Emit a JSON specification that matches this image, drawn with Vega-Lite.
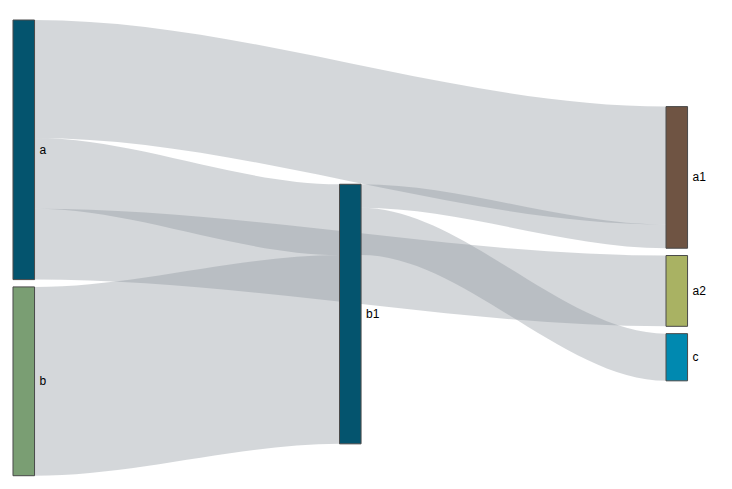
{
  "$schema": "https://vega.github.io/schema/vega-lite/v6.json",
  "width": 732,
  "height": 489,
  "autosize": "none",
  "padding": 0,
  "config": {"view": {"stroke": null}},
  "datasets": {
    "links": [
      {"link": "a-a1", "x": 0, "y0": 0, "y1": 5},
      {"link": "a-a1", "x": 0.066, "y0": 0, "y1": 5},
      {"link": "a-a1", "x": 2, "y0": 3.67, "y1": 8.67},
      {"link": "a-a1", "x": 2.066, "y0": 3.67, "y1": 8.67},
      {"link": "a-b1", "x": 0, "y0": 5, "y1": 8},
      {"link": "a-b1", "x": 0.066, "y0": 5, "y1": 8},
      {"link": "a-b1", "x": 1, "y0": 6.96, "y1": 9.96},
      {"link": "a-b1", "x": 1.066, "y0": 6.96, "y1": 9.96},
      {"link": "a-a2", "x": 0, "y0": 8, "y1": 11},
      {"link": "a-a2", "x": 0.066, "y0": 8, "y1": 11},
      {"link": "a-a2", "x": 2, "y0": 9.98, "y1": 12.98},
      {"link": "a-a2", "x": 2.066, "y0": 9.98, "y1": 12.98},
      {"link": "b-b1", "x": 0, "y0": 11.31, "y1": 19.31},
      {"link": "b-b1", "x": 0.066, "y0": 11.31, "y1": 19.31},
      {"link": "b-b1", "x": 1, "y0": 9.96, "y1": 17.96},
      {"link": "b-b1", "x": 1.066, "y0": 9.96, "y1": 17.96},
      {"link": "b1-a1", "x": 1, "y0": 6.96, "y1": 7.96},
      {"link": "b1-a1", "x": 1.066, "y0": 6.96, "y1": 7.96},
      {"link": "b1-a1", "x": 2, "y0": 8.67, "y1": 9.67},
      {"link": "b1-a1", "x": 2.066, "y0": 8.67, "y1": 9.67},
      {"link": "b1-c", "x": 1, "y0": 7.96, "y1": 9.96},
      {"link": "b1-c", "x": 1.066, "y0": 7.96, "y1": 9.96},
      {"link": "b1-c", "x": 2, "y0": 13.29, "y1": 15.29},
      {"link": "b1-c", "x": 2.066, "y0": 13.29, "y1": 15.29}
    ],
    "nodes": [
      {"name": "a", "x0": 0, "x1": 0.066, "y0": 0, "y1": 11},
      {"name": "b", "x0": 0, "x1": 0.066, "y0": 11.31, "y1": 19.31},
      {"name": "b1", "x0": 1, "x1": 1.066, "y0": 6.96, "y1": 17.96},
      {"name": "a1", "x0": 2, "x1": 2.066, "y0": 3.67, "y1": 9.67},
      {"name": "a2", "x0": 2, "x1": 2.066, "y0": 9.98, "y1": 12.98},
      {"name": "c", "x0": 2, "x1": 2.066, "y0": 13.29, "y1": 15.29}
    ]
  },
  "layer": [
    {
      "data": {"name": "links"},
      "mark": {"type": "area", "interpolate": "monotone", "color": "#8e969e", "opacity": 0.38},
      "encoding": {
        "x": {"field": "x", "type": "quantitative", "scale": {"domain": [-0.0398, 2.2021], "nice": false, "zero": false}, "axis": null},
        "y": {"field": "y0", "type": "quantitative", "scale": {"domain": [-0.8475, 19.873], "nice": false, "zero": false, "reverse": true}, "axis": null},
        "y2": {"field": "y1"},
        "detail": {"field": "link", "type": "nominal"}
      }
    },
    {
      "data": {"name": "nodes"},
      "mark": {"type": "rect", "stroke": "#4a4a4a", "strokeWidth": 1},
      "encoding": {
        "x": {"field": "x0", "type": "quantitative"},
        "x2": {"field": "x1"},
        "y": {"field": "y0", "type": "quantitative"},
        "y2": {"field": "y1"},
        "color": {
          "field": "name",
          "type": "nominal",
          "scale": {
            "domain": ["a", "b", "b1", "a1", "a2", "c"],
            "range": ["#04546e", "#7a9e73", "#04546e", "#6f5443", "#a9b263", "#0089b0"]
          },
          "legend": null
        }
      }
    },
    {
      "data": {"name": "nodes"},
      "transform": [{"calculate": "(datum.y0 + datum.y1) / 2", "as": "ym"}],
      "mark": {"type": "text", "align": "left", "baseline": "middle", "dx": 5, "font": "Liberation Sans", "fontSize": 12, "color": "#000"},
      "encoding": {
        "x": {"field": "x1", "type": "quantitative"},
        "y": {"field": "ym", "type": "quantitative"},
        "text": {"field": "name"}
      }
    }
  ]
}
